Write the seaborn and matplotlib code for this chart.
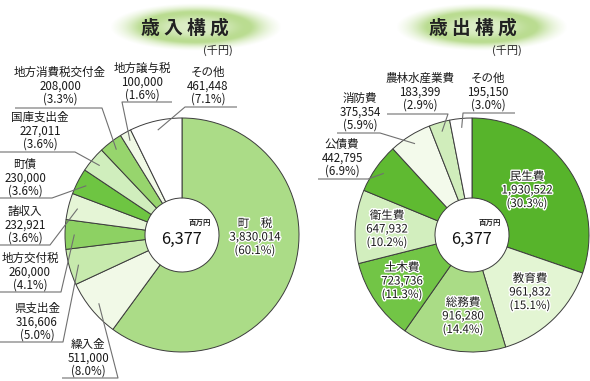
import numpy as np
import matplotlib
matplotlib.use("Agg")
import matplotlib.pyplot as plt
import matplotlib.patheffects as pe
import seaborn as sns

# ---- data (千円) ----
rev_labels = ["町　税", "繰入金", "県支出金", "地方交付税", "諸収入", "町債",
              "国庫支出金", "地方消費税交付金", "地方譲与税", "その他"]
rev_values = [3830014, 511000, 316606, 260000, 232921, 230000,
              227011, 208000, 100000, 461448]
rev_pct = ["60.1", "8.0", "5.0", "4.1", "3.6", "3.6", "3.6", "3.3", "1.6", "7.1"]
rev_colors = ["#abdc87", "#f1f9e7", "#c7eaad", "#8dd163", "#e5f5d6", "#6ec542",
              "#d0eebd", "#97d56d", "#f0f9e5", "#ffffff"]

exp_labels = ["民生費", "教育費", "総務費", "土木費", "衛生費", "公債費",
              "消防費", "農林水産業費", "その他"]
exp_values = [1930522, 961832, 916280, 723736, 647932, 442795,
              375354, 183399, 195150]
exp_pct = ["30.3", "15.1", "14.4", "11.3", "10.2", "6.9", "5.9", "2.9", "3.0"]
exp_colors = ["#57b42b", "#e3f5d3", "#aadc86", "#72c546", "#d2eebe", "#5fba31",
              "#f3faeb", "#d0edbb", "#ffffff"]

total_text = "6,377"

# ---- layout (pixels, y measured from top) ----
W, H = 590, 381
R, R_IN = 117, 37
rev_center = (182, 235)
exp_center = (472, 235)

# label text position (middle line) and underline (x_far, x_near, y); None = inside label
rev_text_pos = [(255, 237), (88, 358), (37, 322), (30, 272), (25, 225), (25, 178),
                (40, 131), (60, 86), (142, 82), (208, 86)]
rev_underline = [None, (62, 118, 378), (0, 63, 342), (0, 61, 292), (0, 50, 245),
                 (0, 52, 198), (0, 75, 152), (15, 102, 108), (172, 122, 102),
                 (237, 185, 107)]

exp_text_pos = [(527, 190), (530, 292), (463, 316), (402, 281), (387, 229),
                (342, 158), (360, 112), (420, 92), (488, 92)]
exp_underline = [None, None, None, None, None, (318, 368, 179), (337, 380, 133),
                 (387, 448, 114), (515, 463, 113)]

sns.set_theme(style="white")
plt.rcParams['font.family'] = ['Noto Sans CJK JP', 'DejaVu Sans']

fig = plt.figure(figsize=(W / 100, H / 100), dpi=100)
ax = fig.add_axes([0, 0, 1, 1])


def put(x, y, s, **kw):
    ax.text(x, H - y, s, ha='center', va='center', **kw)


def glow(cx, cy, a, b):
    # soft green ellipse behind the titles
    xs = np.linspace(-1, 1, 240)
    ys = np.linspace(-1, 1, 90)
    X, Y = np.meshgrid(xs, ys)
    r = np.sqrt(X ** 2 + Y ** 2)
    img = np.zeros((90, 240, 4))
    img[..., 0] = 0.70
    img[..., 1] = 0.85
    img[..., 2] = 0.52
    alpha = 0.45 + 0.45 * np.exp(-((r - 0.6) / 0.25) ** 2)
    alpha = alpha * np.clip((1 - r) / 0.35, 0, 1)
    img[..., 3] = np.clip(alpha, 0, 1)
    ax.imshow(img, extent=(cx - a, cx + a, H - cy - b, H - cy + b),
              interpolation='bilinear', zorder=0)


def donut(center, labels, values, pct, colors, text_pos, underline):
    cx, cy = center
    ax.pie(values, colors=colors, startangle=90, counterclock=False,
           center=(cx, H - cy), radius=R,
           wedgeprops=dict(width=R - R_IN, edgecolor='#3c3c3c', linewidth=0.7))

    fracs = np.cumsum(values) / np.sum(values)
    mids = fracs - np.array(values) / np.sum(values) / 2
    for i, lab in enumerate(labels):
        tx, ty = text_pos[i]
        ul = underline[i]
        kw = dict(fontsize=8.3, color='#1a1a1a', zorder=5)
        if ul is None:
            kw['path_effects'] = [pe.withStroke(linewidth=2.0, foreground='white')]
        put(tx, ty - 13.5, lab, **kw)
        put(tx, ty, f"{values[i]:,}", **kw)
        put(tx, ty + 13.5, f"({pct[i]}%)", **kw)
        if ul is not None:
            ang = np.deg2rad(90 - mids[i] * 360)
            tipx = cx + 0.92 * R * np.cos(ang)
            tipy = cy - 0.92 * R * np.sin(ang)
            x_far, x_near, uy = ul
            ax.plot([x_far, x_near, tipx], [H - uy, H - uy, H - tipy],
                    color='#707070', lw=0.8, zorder=4, solid_capstyle='butt')

    # center total
    put(cx + 18, cy - 13, "百万円", fontsize=5.4, weight='bold', color='#222222', zorder=5)
    put(cx, cy + 4, total_text, fontsize=11.8, color='#111111', zorder=5)


glow(196, 27, 86, 24)
glow(482, 27, 86, 24)
put(185, 28, "歳 入 構 成", fontsize=13.5, weight='bold', color='#222222', zorder=3)
put(218, 50, "(千円)", fontsize=8, color='#222222', zorder=3)
put(473, 28, "歳 出 構 成", fontsize=13.5, weight='bold', color='#222222', zorder=3)
put(507, 50, "(千円)", fontsize=8, color='#222222', zorder=3)

donut(rev_center, rev_labels, rev_values, rev_pct, rev_colors, rev_text_pos, rev_underline)
donut(exp_center, exp_labels, exp_values, exp_pct, exp_colors, exp_text_pos, exp_underline)

ax.set_xlim(0, W)
ax.set_ylim(0, H)
ax.set_aspect('equal')
ax.set_position([0, 0, 1, 1])
ax.axis('off')

fig.savefig("out.png", dpi=100, facecolor='white')
